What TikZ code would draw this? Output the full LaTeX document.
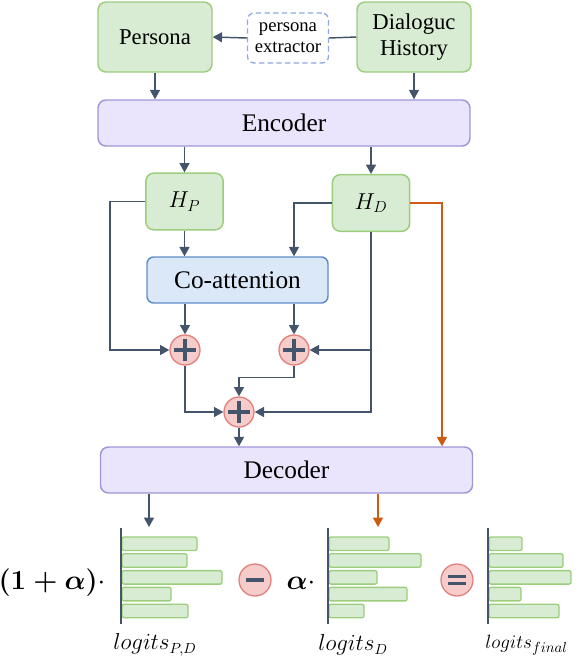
\documentclass[tikz,border=0pt]{standalone}
\usepackage{fontspec}
\setmainfont{Liberation Serif}
\usepackage{amsmath}
\usetikzlibrary{arrows.meta}
\definecolor{slate}{RGB}{68,84,106}
\definecolor{rust}{RGB}{204,92,20}
\definecolor{greenfill}{RGB}{215,236,210}
\definecolor{greenline}{RGB}{155,205,125}
\definecolor{lilacfill}{RGB}{234,228,252}
\definecolor{lilacline}{RGB}{160,150,215}
\definecolor{bluefill}{RGB}{218,232,247}
\definecolor{blueline}{RGB}{95,140,200}
\definecolor{dashline}{RGB}{140,170,225}
\definecolor{pinkfill}{RGB}{246,204,202}
\definecolor{pinkline}{RGB}{225,130,125}

\begin{document}
\begin{tikzpicture}[x=0.75pt, y=-0.75pt,
    inbox/.style={draw=greenline, fill=greenfill, rounded corners=6pt, line width=1.1pt,
                  align=center, inner sep=0pt, minimum width=85.5pt, minimum height=52.5pt,
                  font=\fontsize{17}{20}\selectfont},
    hbox/.style={inbox, minimum width=58pt, minimum height=42.5pt, font=\fontsize{18}{20}\selectfont},
    coder/.style={draw=lilacline, fill=lilacfill, rounded corners=6pt, line width=1.1pt,
                  inner sep=0pt, minimum width=279pt, minimum height=34.5pt,
                  font=\fontsize{19}{22}\selectfont},
    attbox/.style={draw=blueline, fill=bluefill, rounded corners=5pt, line width=1.1pt,
                  inner sep=0pt, minimum width=135.75pt, minimum height=34.5pt,
                  font=\fontsize{19}{22}\selectfont},
    extbox/.style={draw=dashline, dash pattern=on 4pt off 2.5pt, rounded corners=5pt, line width=1pt,
                  fill=white, align=center, inner sep=0pt, minimum width=60.75pt, minimum height=37.5pt,
                  font=\fontsize{14}{16}\selectfont},
    opnode/.style={circle, draw=pinkline, fill=pinkfill, line width=1pt, inner sep=0pt,
                  minimum size=22.5pt},
    plusop/.style={opnode, path picture={
        \draw[slate, line width=2.5pt]
          ([xshift=-8pt]path picture bounding box.center) -- ([xshift=8pt]path picture bounding box.center)
          ([yshift=-8pt]path picture bounding box.center) -- ([yshift=8pt]path picture bounding box.center);}},
    minusop/.style={opnode, minimum size=24pt, path picture={
        \draw[slate, line width=2.4pt]
          ([xshift=-6.5pt]path picture bounding box.center) -- ([xshift=6.5pt]path picture bounding box.center);}},
    equalop/.style={opnode, minimum size=24pt, path picture={
        \draw[slate, line width=2pt]
          ([xshift=-6.5pt,yshift=2.4pt]path picture bounding box.center) -- ([xshift=6.5pt,yshift=2.4pt]path picture bounding box.center)
          ([xshift=-6.5pt,yshift=-2.4pt]path picture bounding box.center) -- ([xshift=6.5pt,yshift=-2.4pt]path picture bounding box.center);}},
    arr/.style={-{Triangle[length=7pt, width=7.5pt]}, slate, line width=1.1pt},
    line/.style={slate, line width=1.1pt},
    arrorange/.style={arr, rust},
    bar/.style={draw=greenline, fill=greenfill, line width=1pt, rounded corners=1.5pt},
    axisline/.style={slate, line width=1.3pt},
    lbl/.style={font=\fontsize{16}{18}\selectfont, inner sep=0pt},
    coef/.style={font=\fontsize{21}{24}\selectfont, inner sep=0pt}]
  \useasboundingbox (0,0) rectangle (576,658);
  % inputs
  \node[inbox] (persona) at (155,37) {Persona};
  \node[inbox] (history) at (414,37) {Dialoguc\\History};
  \node[extbox] (extractor) at (288,38) {persona\\extractor};
  \node[coder] (encoder) at (284,123) {Encoder};
  \node[hbox] (hp) at (184.5,201.5) {$H_P$};
  \node[hbox] (hd) at (371,203) {$H_D$};
  \node[attbox] (coatt) at (237.5,280) {Co-attention};
  \node[plusop] (sum1) at (185,350) {};
  \node[plusop] (sum2) at (294,350) {};
  \node[plusop] (sum3) at (239,412) {};
  \node[coder] (decoder) at (286.5,470) {Decoder};
  \coordinate (tap) at (442,0);
  \coordinate (pdtip) at (149,527);
  \coordinate (dtip) at (378,527);

  \draw[line] (history.west) -- (extractor.east);
  \draw[arr] (extractor.west) -- (persona.east);
  \draw[arr] (persona.south) -- (persona.south |- encoder.north);
  \draw[arr] (history.south) -- (history.south |- encoder.north);
  \draw[arr] (hp |- encoder.south) -- (hp.north);
  \draw[arr] (hd |- encoder.south) -- (hd.north);
  \draw[arr] (hp.south) -- (hp.south |- coatt.north);
  \draw[arr] (hd.west) -| (sum2 |- coatt.north);
  \draw[arr] (hp.west) -- ++(-35,0) |- (sum1.west);
  \draw[arr] (sum1 |- coatt.south) -- (sum1.north);
  \draw[arr] (sum2 |- coatt.south) -- (sum2.north);
  \draw[arr] (hd.south) |- (sum3.east);
  \draw[arr] (hd |- sum2) -- (sum2.east);
  \draw[arr] (sum1.south) |- (sum3.west);
  \draw[arr] (sum2.south) -- ++(0,12) -| (sum3.north);
  \draw[arr] (sum3.south) -- (sum3 |- decoder.north);
  \draw[arrorange] (hd.east) -| (tap |- decoder.north);
  \draw[arr] (decoder.south -| pdtip) -- (pdtip);
  \draw[arrorange] (decoder.south -| dtip) -- (dtip);

  % logit bars
  \foreach \ax/\lens in {121/{75,65,100,49,66}, 328/{60,92,48,78,35}, 488/{33,74,82,32,70}} {
    \foreach \w [count=\i from 0] in \lens
      \draw[bar] (\ax+1,537+16.8*\i) rectangle ++(\w,13.5);
    \draw[axisline] (\ax,528) -- (\ax,624);
  }
  \node[coef] (coefpd) at (52,583) {$\boldsymbol{(1+\alpha)}\cdot$};
  \node[minusop] (minus) at (255,580) {};
  \node[coef] (coefd) at (301,583) {$\boldsymbol{\alpha}\cdot$};
  \node[equalop] (equal) at (457,580) {};
  \node[lbl] (lpd) at (155,645) {$logits_{P,D}$};
  \node[lbl] (ld) at (353,645) {$logits_D$};
  \node[lbl, anchor=west, font=\fontsize{15}{17}\selectfont] (lfin) at (485,645) {$logits_{final}$};
\end{tikzpicture}
\end{document}
